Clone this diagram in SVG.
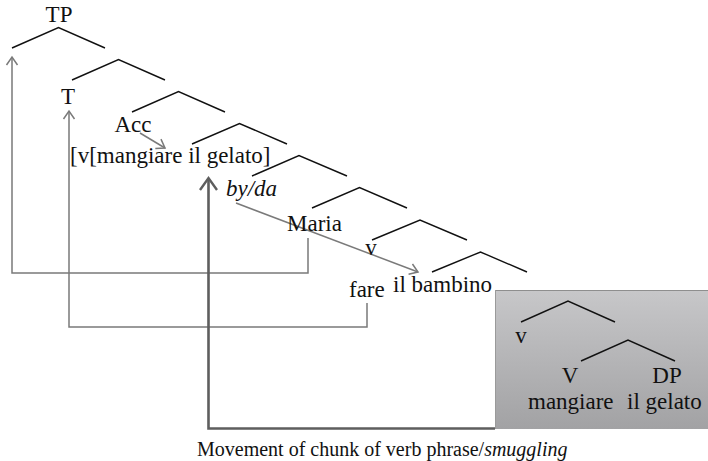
<svg xmlns="http://www.w3.org/2000/svg" width="708" height="461" viewBox="0 0 708 461">
  <style>
    .lbl { font-family: "Liberation Serif", "Times New Roman", serif; font-size: 23px; fill: #111; }
    .it { font-style: italic; }
    .mid { text-anchor: middle; }
    .branch { fill: none; stroke: #111; stroke-width: 1.4; }
    .move { fill: none; stroke: #7a7a7a; stroke-width: 1.5; }
    .move-thick { fill: none; stroke: #5e5e5e; stroke-width: 2.6; }
    .cap { font-family: "Liberation Serif", "Times New Roman", serif; font-size: 20px; fill: #111; }
  </style>
  <defs>
    <linearGradient id="boxFill" x1="0" y1="0" x2="0" y2="1">
      <stop offset="0" stop-color="#c7c7c9"/>
      <stop offset="1" stop-color="#a2a2a4"/>
    </linearGradient>
    <marker id="headThin" markerUnits="userSpaceOnUse" markerWidth="10" markerHeight="12" refX="9" refY="6" orient="auto" overflow="visible">
      <path d="M1,0.5 L9,6 L1,11.5" fill="none" stroke="#7a7a7a" stroke-width="1.5"/>
    </marker>
    <marker id="headThick" markerUnits="userSpaceOnUse" markerWidth="14" markerHeight="18" refX="13" refY="9" orient="auto" overflow="visible">
      <path d="M1,0.5 L13,9 L1,17.5" fill="none" stroke="#5e5e5e" stroke-width="2.4"/>
    </marker>
  </defs>

  <!-- shaded lower VP chunk -->
  <g id="vp-chunk">
    <rect x="495" y="290" width="213" height="139" fill="url(#boxFill)"/>
    <line x1="495" y1="290.5" x2="708" y2="290.5" stroke="#8e8e8e" stroke-width="1.2"/>
    <line x1="495.5" y1="290" x2="495.5" y2="429" stroke="#9a9a9a" stroke-width="1"/>
  </g>

  <!-- tree branches -->
  <g id="branches">
    <polyline class="branch" points="12,48 58.5,27.5 105,48"/>
    <polyline class="branch" points="72,80 118.5,59.5 165,80"/>
    <polyline class="branch" points="132,112 178.5,91.5 225,112"/>
    <polyline class="branch" points="192,144 239.5,123.5 287,144"/>
    <polyline class="branch" points="252,176 299,155.5 347,176"/>
    <polyline class="branch" points="312,208 359.5,187.5 407,208"/>
    <polyline class="branch" points="372,240 420,220 467,240"/>
    <polyline class="branch" points="432,272 480.5,252 527,272"/>
    <polyline class="branch" points="521,322 568,301 615,322"/>
    <polyline class="branch" points="581,361 628,340 675,361"/>
  </g>

  <!-- movement connectors -->
  <g id="connectors">
    <polyline class="move" points="308,238 308,273 12,273 12,57" marker-end="url(#headThin)"/>
    <polyline class="move" points="367,303 367,327 69,327 69,111" marker-end="url(#headThin)"/>
    <line class="move" x1="140" y1="133" x2="165" y2="148" marker-end="url(#headThin)"/>
    <line class="move" x1="236" y1="203" x2="418" y2="272" marker-end="url(#headThin)"/>
    <polyline class="move-thick" points="495,428.5 208.5,428.5 208.5,178" marker-end="url(#headThick)"/>
  </g>

  <!-- node labels -->
  <g id="n-TP"><text class="lbl mid" x="59" y="22">TP</text></g>
  <g id="n-T"><text class="lbl mid" x="68" y="104">T</text></g>
  <g id="n-Acc"><text class="lbl mid" x="133" y="132">Acc</text></g>
  <g id="n-vp-moved"><text class="lbl" x="70" y="163">[v[mangiare il gelato]</text></g>
  <g id="n-byda"><text class="lbl it" x="226" y="196">by/da</text></g>
  <g id="n-Maria"><text class="lbl" x="287" y="231">Maria</text></g>
  <g id="n-v-upper"><text class="lbl mid" x="371" y="255">v</text></g>
  <g id="n-fare"><text class="lbl" x="349" y="297">fare</text></g>
  <g id="n-bambino"><text class="lbl" x="393" y="292">il bambino</text></g>
  <g id="n-v-lower"><text class="lbl mid" x="521" y="343">v</text></g>
  <g id="n-V"><text class="lbl mid" x="570" y="383">V</text></g>
  <g id="n-DP"><text class="lbl mid" x="667" y="383">DP</text></g>
  <g id="n-mangiare"><text class="lbl" x="528" y="409">mangiare</text></g>
  <g id="n-gelato"><text class="lbl" x="627" y="409">il gelato</text></g>

  <!-- caption -->
  <g id="caption">
    <text class="cap" x="197" y="456">Movement of chunk of verb phrase/<tspan class="it">smuggling</tspan></text>
  </g>
</svg>
